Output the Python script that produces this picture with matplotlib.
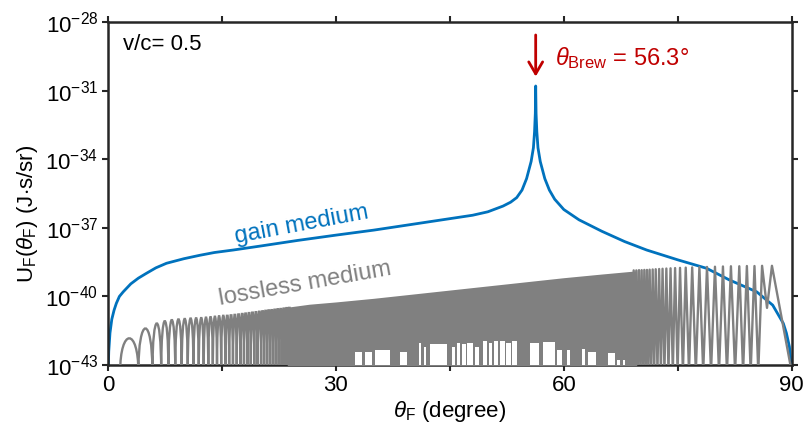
import matplotlib.pyplot as plt
import numpy as np
from matplotlib.path import Path
from matplotlib.patches import PathPatch

plt.rcParams.update(
    {
        "font.family": ["Liberation Sans", "DejaVu Sans"],
        "mathtext.fontset": "custom",
        "mathtext.rm": "Liberation Sans",
        "mathtext.it": "Liberation Sans:italic",
        "mathtext.bf": "Liberation Sans:bold",
    }
)

BLUE = "#0072BD"
GRAY = "#808080"
RED = "#C00000"
DARK = "#262626"

# gain medium, log10 U_F
gain_theta = [0.0, 0.1, 0.26, 0.5, 0.8, 1.1, 1.5, 2.0, 3.0, 4.0, 5.0, 6.3,
              7.7, 10.0, 12.1, 14.0, 16.5, 20.0, 25.0, 30.0, 35.0, 40.0, 45.0,
              48.0, 50.0, 52.0, 53.0, 53.8, 54.5, 55.1, 55.7, 56.0, 56.15,
              56.25, 56.3, 56.35, 56.45, 56.6, 56.9, 57.5, 58.1, 58.8, 60.0,
              62.0, 65.0, 68.0, 70.9, 75.0, 78.8, 81.8, 85.4, 87.5, 88.9,
              89.3, 89.7, 89.9, 90.0]
gain_log = [-43.5, -42.4, -41.6, -41.0, -40.6, -40.3, -40.0, -39.8, -39.45,
            -39.2, -39.0, -38.75, -38.55, -38.35, -38.2, -38.08, -37.97,
            -37.8, -37.55, -37.32, -37.1, -36.85, -36.6, -36.45, -36.3,
            -36.05, -35.88, -35.68, -35.35, -34.85, -34.1, -33.5, -32.8,
            -32.0, -30.8, -32.0, -32.8, -33.5, -34.1, -34.85, -35.35, -35.75,
            -36.2, -36.65, -37.15, -37.6, -37.97, -38.4, -38.77, -39.28,
            -39.8, -40.38, -41.18, -41.6, -42.2, -42.9, -43.5]

# lossless medium, resolved lobes on the left: zeros and lobe tops
lobe_zeros = [1.6, 4.0, 5.85, 7.0, 7.95, 8.85, 9.7, 10.5, 11.25, 11.95, 12.6,
              13.2, 13.8, 14.35, 14.9, 15.45, 15.95, 16.45, 16.95, 17.45,
              17.9, 18.35, 18.8, 19.25, 19.7, 20.15, 20.55, 20.95, 21.35,
              21.75, 22.15, 22.55, 22.95, 23.35, 23.7, 24.05]
lobe_tops = [-41.83, -41.40, -41.18, -41.08, -41.03, -41.00, -40.98, -40.96,
             -40.95, -40.94, -40.92, -40.90, -40.88, -40.86, -40.84, -40.82,
             -40.80, -40.78, -40.76, -40.74, -40.72, -40.70, -40.68, -40.66,
             -40.64, -40.62, -40.60, -40.58, -40.57, -40.55, -40.53, -40.52,
             -40.50, -40.48, -40.47]

# dense middle part, upper edge of the solid grey band
band_theta = [23.6, 26.5, 30.0, 35.0, 40.0, 45.0, 50.0, 55.0, 60.0, 65.0,
              69.6]
band_top = [-40.47, -40.34, -40.24, -40.08, -39.90, -39.72, -39.54, -39.36,
            -39.18, -39.02, -38.88]

# white gaps left at the bottom of the dense band
gap_start = [32.5, 33.8, 35.1, 38.4, 41.0, 41.6, 42.4, 45.3, 45.9, 46.6, 47.3,
             48.3, 49.3, 50.1, 50.8, 51.6, 52.4, 53.2, 55.5, 57.2, 59.1, 60.4,
             62.4, 63.2, 65.8, 67.0, 67.8]
gap_end = [33.4, 34.7, 37.1, 39.3, 41.2, 41.8, 44.6, 45.7, 46.4, 47.1, 48.0,
           48.9, 49.9, 50.6, 51.3, 52.2, 53.0, 53.9, 56.8, 58.8, 59.7, 60.8,
           62.8, 64.3, 66.7, 67.4, 68.0]
gap_top = [-42.42, -42.42, -42.35, -42.42, -42.05, -42.2, -42.1, -42.2, -42.05,
           -42.1, -42.05, -42.2, -41.95, -42.05, -41.95, -41.95, -42.05,
           -41.95, -42.05, -42.0, -42.35, -42.35, -42.28, -42.45, -42.47,
           -42.76, -42.76]

# right part, sparse sampling gives a zigzag
zigzag_theta = [69.0, 69.2, 69.38, 69.55, 69.73, 69.9, 70.08, 70.25, 70.43,
                70.6, 70.78, 70.95, 71.13, 71.3, 71.5, 71.7, 71.9, 72.1, 72.33,
                72.55, 72.78, 73.0, 73.25, 73.5, 73.78, 74.05, 74.35, 74.65,
                74.98, 75.3, 75.68, 76.05, 76.48, 76.9, 77.38, 77.85, 78.35,
                78.85, 79.38, 79.9, 80.43, 80.95, 81.48, 82.0, 82.55, 83.1,
                83.6, 84.1, 84.6, 85.1, 85.6, 86.1, 86.75, 87.4, 90.0]
zigzag_log = [-43.3, -38.86, -43.3, -38.86, -43.3, -38.85, -43.3, -38.85,
              -43.3, -38.84, -43.3, -38.84, -43.3, -38.83, -43.3, -38.82,
              -43.3, -38.81, -43.3, -38.80, -43.3, -38.79, -43.3, -38.78,
              -43.3, -38.77, -43.3, -38.76, -43.3, -38.75, -43.3, -38.74,
              -43.3, -38.73, -43.3, -38.72, -43.3, -38.71, -43.3, -38.70,
              -43.3, -38.69, -43.3, -38.68, -43.3, -38.68, -43.3, -38.67,
              -43.3, -38.67, -43.3, -38.66, -40.5, -38.66, -43.3]

xticks = [0, 30, 60, 90]
xminor = [15, 45, 75]
yticks_exp = [-28, -31, -34, -37, -40, -43]


def lobe_path(zeros, tops, base=-43.3):
    # one cubic arch per lobe, control points straight above the zeros
    verts, codes = [], []
    for z0, z1, top in zip(zeros[:-1], zeros[1:], tops):
        ctrl = 10 ** (base + (top - base) / 0.75)
        verts += [(z0, 10 ** base), (z0, ctrl), (z1, ctrl), (z1, 10 ** base)]
        codes += [Path.MOVETO, Path.CURVE4, Path.CURVE4, Path.CURVE4]
    return Path(verts, codes)


fig = plt.figure(figsize=(8.12, 4.3), dpi=100)
ax = fig.add_axes([0.133, 0.151, 0.842, 0.798])
ax.set_yscale("log")

ax.plot(gain_theta, 10 ** np.array(gain_log), color=BLUE, lw=2.0, zorder=2)

ax.fill_between(band_theta, 1e-44, 10 ** np.array(band_top), color=GRAY,
                lw=0, zorder=3)
ax.bar(gap_start, 10 ** np.array(gap_top) - 1e-44,
       width=np.array(gap_end) - np.array(gap_start), bottom=1e-44,
       align="edge", color="white", lw=0, zorder=3.5)
ax.add_patch(PathPatch(lobe_path(lobe_zeros, lobe_tops), fill=False,
                       edgecolor=GRAY, lw=1.7, zorder=3))
ax.plot(zigzag_theta, 10 ** np.array(zigzag_log), color=GRAY, lw=1.7,
        zorder=3)

ax.set_xlim(0, 90)
ax.set_ylim(1e-43, 1e-28)
ax.set_xticks(xticks)
ax.set_xticks(xminor, minor=True)
ax.set_yticks([10.0 ** e for e in yticks_exp])
ax.set_yticklabels([rf"10$^{{{e}}}$" for e in yticks_exp])
ax.yaxis.set_minor_locator(plt.NullLocator())
ax.tick_params(which="both", direction="out", top=True, right=True,
               labelsize=16, color=DARK, width=1.5, length=4, pad=3)
ax.tick_params(which="minor", labelbottom=False)
for s in ax.spines.values():
    s.set_linewidth(1.8)
    s.set_color(DARK)

ax.set_xlabel(r"$\theta_{\mathregular{F}}$ (degree)", fontsize=16, labelpad=2)
ax.set_ylabel(r"U$_{\mathregular{F}}$($\theta_{\mathregular{F}}$) (J$\cdot$s/sr)",
              fontsize=16)
ax.yaxis.set_label_coords(-0.10, 0.44)

ax.text(0.022, 0.935, "v/c= 0.5", transform=ax.transAxes, fontsize=16,
        va="center", ha="left")
ax.text(25.5, 10 ** -36.88, "gain medium", color=BLUE, fontsize=17,
        rotation=10.6, ha="center", va="center", rotation_mode="anchor")
ax.text(25.9, 10 ** -39.45, "lossless medium", color=GRAY, fontsize=17,
        rotation=10.0, ha="center", va="center", rotation_mode="anchor")

ax.annotate("", xy=(56.3, 10 ** -30.39), xytext=(56.3, 10 ** -28.57),
            arrowprops=dict(arrowstyle="->,head_length=0.43,head_width=0.25",
                            color=RED, lw=2, mutation_scale=20,
                            shrinkA=0, shrinkB=0))
ax.text(58.8, 10 ** -29.58, r"$\theta_{\mathregular{Brew}}$ = 56.3°",
        color=RED, fontsize=17, ha="left", va="center")

fig.savefig("out.png", dpi=100)
